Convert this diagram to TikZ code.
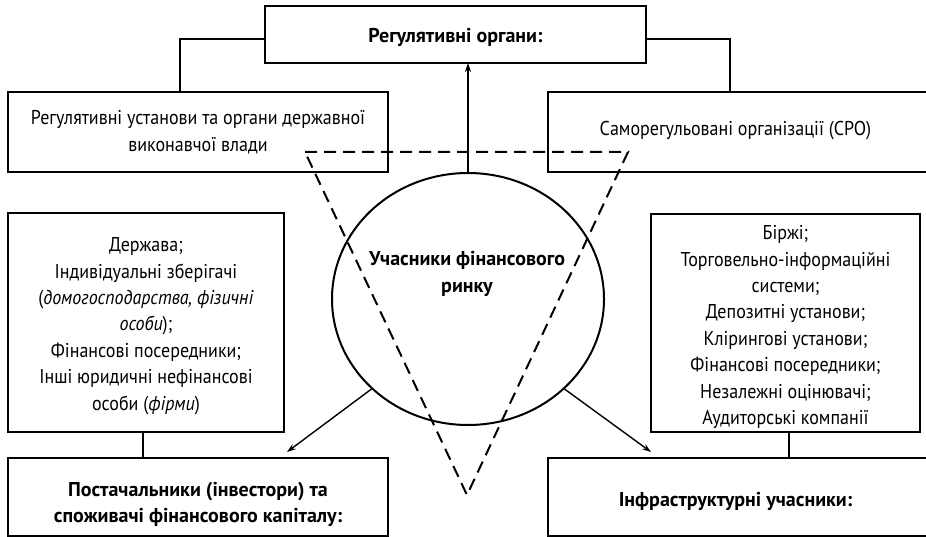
\documentclass[tikz,border=0pt]{standalone}
\usepackage{fontspec}
\setmainfont{PT Sans}[FakeStretch=0.9, BoldFeatures={FakeStretch=1.0}]
\usetikzlibrary{shapes.geometric,arrows.meta}
\newcommand\fsz{\fontsize{20}{26.4}\selectfont}
\begin{document}
\begin{tikzpicture}[x=1pt,y=-1pt,
  box/.style={draw, line width=2pt, inner sep=0pt, outer sep=0pt, align=center, font=\fsz},
  txt/.style={inner sep=0pt, align=center, font=\fsz},
  link/.style={line width=1.4pt},
  arr/.style={line width=1.4pt, -{Stealth[length=9pt,width=6pt]}},
  tri/.style={line width=2pt, dash pattern=on 12pt off 7pt}]
\useasboundingbox (0,0) rectangle (926,537);
% boxes
\node[box, minimum width=381pt, minimum height=57pt] (reg) at (455.5,34.5) {};
\node[txt] (regt) at (455.5,37) {\bfseries Регулятивні органи:};
\node[box, minimum width=380pt, minimum height=80pt] (regl) at (198,132)
  {Регулятивні установи та органи державної\\виконавчої влади};
\node[box, minimum width=380pt, minimum height=80pt] (sro) at (738,132) {};
\node[txt] (srot) at (735.5,131) {Саморегульовані організації (СРО)};
\node[box, minimum width=276pt, minimum height=219pt] (supl) at (146,322.5) {};
\node[txt] (suplt) at (146,326)
  {Держава;\\Індивідуальні зберігачі\\(\textit{домогосподарства, фізичні}\\\textit{особи});\\Фінансові посередники;\\Інші юридичні нефінансові\\особи (\textit{фірми})};
\node[box, minimum width=269pt, minimum height=218pt] (infl) at (785.5,323) {};
\node[txt] (inflt) at (785.5,327)
  {Біржі;\\Торговельно-інформаційні\\системи;\\Депозитні установи;\\Клірингові установи;\\Фінансові посередники;\\Незалежні оцінювачі;\\Аудиторські компанії};
\node[box, minimum width=380pt, minimum height=78pt] (cons) at (198,497) {};
\node[txt] (const) at (198,504.5)
  {\bfseries Постачальники (інвестори) та\\\bfseries споживачі фінансового капіталу:};
\node[box, minimum width=380pt, minimum height=78pt] (infb) at (738,497) {};
\node[txt] (infbt) at (735.5,501) {\bfseries Інфраструктурні учасники:};
% ellipse
\node[draw, ellipse, line width=2pt, minimum width=272pt, minimum height=252pt, inner sep=0pt] (circ) at (468,299) {};
\node[txt] (circt) at (467,274) {\bfseries Учасники фінансового\\\bfseries ринку};
% triangle
\coordinate (tA) at (305,152);
\coordinate (tB) at (628,152);
\coordinate (tC) at (467,495);
\draw[tri] (tA) -- (tB) -- (tC) -- cycle;
% connectors
\draw[link] ([yshift=-4.5pt]reg.west) -| ([xshift=-18pt]regl.north);
\draw[link] ([yshift=-4.5pt]reg.east) -| ([xshift=-8pt]sro.north);
\draw[link] ([xshift=-3pt]supl.south) -- ([xshift=-55pt]cons.north);
\draw[link] ([xshift=3.5pt]infl.south) -- ([xshift=51pt]infb.north);
\draw[arr] (circ.north) -- (circ.north |- reg.south);
\draw[arr] (circ.223) -- ([xshift=89pt,yshift=6pt]cons.north);
\draw[arr] (circ.317) -- ([xshift=-87pt,yshift=6pt]infb.north);
\end{tikzpicture}
\end{document}
